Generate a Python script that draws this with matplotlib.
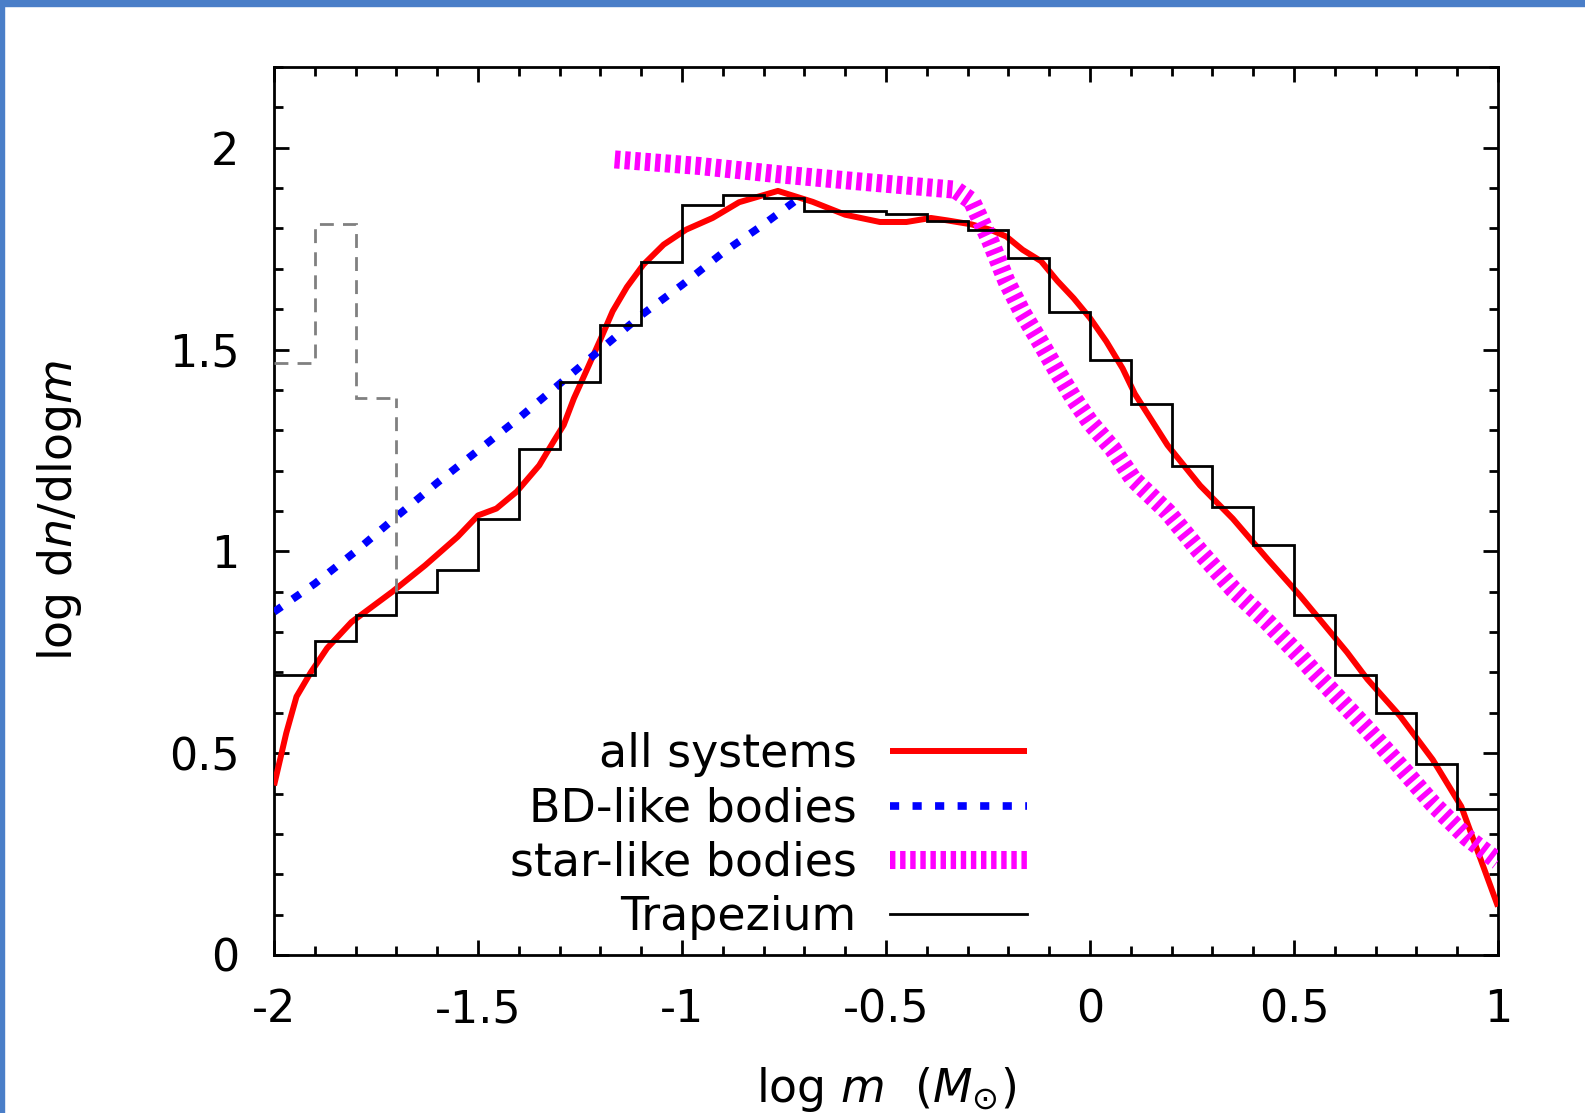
import numpy as np
import matplotlib.pyplot as plt
from matplotlib.patches import Rectangle
from matplotlib.ticker import MultipleLocator, FuncFormatter

plt.rcParams['font.family'] = ['DejaVu Sans']
plt.rcParams['mathtext.fontset'] = 'dejavusans'
plt.rcParams['axes.unicode_minus'] = False

# all systems (smooth curve)
all_x = [-2.0, -1.97, -1.945, -1.91, -1.87, -1.81, -1.71, -1.63, -1.55, -1.50, -1.455,
         -1.405, -1.35, -1.315, -1.29, -1.265, -1.235, -1.20, -1.17, -1.135, -1.095,
         -1.045, -0.99, -0.925, -0.86, -0.765, -0.68, -0.60, -0.515, -0.45, -0.39,
         -0.35, -0.29, -0.245, -0.205, -0.165, -0.12, -0.08, -0.04, 0.0, 0.04, 0.08,
         0.11, 0.19, 0.27, 0.35, 0.435, 0.515, 0.63, 0.68, 0.76, 0.84, 0.91, 0.955, 1.0]
all_y = [0.42, 0.55, 0.64, 0.70, 0.76, 0.825, 0.90, 0.965, 1.036, 1.089, 1.106,
         1.148, 1.213, 1.272, 1.313, 1.379, 1.446, 1.525, 1.595, 1.655, 1.71,
         1.76, 1.797, 1.826, 1.865, 1.893, 1.866, 1.834, 1.816, 1.816, 1.826,
         1.82, 1.81, 1.797, 1.78, 1.747, 1.719, 1.67, 1.627, 1.578, 1.52, 1.453,
         1.39, 1.263, 1.163, 1.081, 0.981, 0.89, 0.75, 0.683, 0.592, 0.484, 0.368, 0.244, 0.12]

# BD-like bodies
bd_x = [-2.0, -1.9, -1.8, -1.7, -1.6, -1.5, -1.4, -1.3, -1.2, -1.1, -1.0, -0.9, -0.8, -0.72]
bd_y = [0.85, 0.92, 1.0, 1.086, 1.17, 1.25, 1.33, 1.415, 1.50, 1.585, 1.66, 1.74, 1.81, 1.87]

# star-like bodies
star_x = [-1.165, -0.96, -0.76, -0.55, -0.33, -0.29, -0.245, -0.205, -0.165, -0.12,
          -0.08, -0.04, 0.0, 0.055, 0.105, 0.19, 0.27, 0.35, 0.435, 0.515, 0.55,
          0.68, 0.76, 0.84, 0.925, 1.0]
star_y = [1.971, 1.955, 1.934, 1.915, 1.896, 1.868, 1.77, 1.67, 1.59, 1.515,
          1.445, 1.379, 1.32, 1.255, 1.18, 1.098, 0.999, 0.907, 0.825, 0.74, 0.70,
          0.559, 0.468, 0.375, 0.29, 0.232]

# Trapezium histogram
trap_edges = [-2.0, -1.9, -1.8, -1.7, -1.6, -1.5, -1.4, -1.3, -1.2, -1.1, -1.0,
              -0.9, -0.8, -0.7, -0.6, -0.5, -0.4, -0.3, -0.2, -0.1, 0.0,
              0.1, 0.2, 0.3, 0.4, 0.5, 0.6, 0.7, 0.8, 0.9, 1.0]
trap_vals = [0.693, 0.778, 0.843, 0.899, 0.954, 1.081, 1.253, 1.419, 1.560, 1.717,
             1.857, 1.884, 1.876, 1.843, 1.843, 1.836, 1.819, 1.797, 1.727, 1.592,
             1.474, 1.364, 1.212, 1.111, 1.016, 0.843, 0.693, 0.599, 0.474, 0.362]

# low-mass observational bins (grey dashed)
obs_edges = [-2.0, -1.9, -1.8, -1.7]
obs_vals = [1.466, 1.811, 1.379]

labels = ['all systems', 'BD-like bodies', 'star-like bodies', 'Trapezium']

fig = plt.figure(figsize=(15.85, 11.13), dpi=100)
ax = fig.add_axes([0.1729, 0.1420, 0.7722, 0.7978])

ax.plot(all_x, all_y, color='#ff0000', lw=4.3, solid_capstyle='butt', label=labels[0], zorder=3)
ax.plot(bd_x, bd_y, color='#0000ff', lw=5.5, linestyle=(0, (1.2, 1.75)),
        dash_capstyle='butt', label=labels[1], zorder=4)
ax.plot(star_x, star_y, color='#ff00ff', lw=13, linestyle=(0, (0.3, 0.26)),
        dash_capstyle='butt', label=labels[2], zorder=5)
ax.stairs(trap_vals, trap_edges, baseline=None, color='black', lw=2, label=labels[3], zorder=6)
grey_ls = (0, (5, 3.3))
ax.stairs(obs_vals, obs_edges, baseline=None, color='#808080', lw=2,
          linestyle=grey_ls, zorder=6)
ax.vlines(obs_edges[-1], trap_vals[3], obs_vals[-1], color='#808080', lw=2,
          linestyle=grey_ls, zorder=6)

ax.set_xlim(-2, 1)
ax.set_ylim(0, 2.2)

ax.xaxis.set_major_locator(MultipleLocator(0.5))
ax.xaxis.set_minor_locator(MultipleLocator(0.1))
ax.yaxis.set_major_locator(MultipleLocator(0.5))
ax.yaxis.set_minor_locator(MultipleLocator(0.1))
fmt = FuncFormatter(lambda v, p: '%g' % round(v, 2))
ax.xaxis.set_major_formatter(fmt)
ax.yaxis.set_major_formatter(fmt)

ax.tick_params(which='both', direction='in', top=True, right=True, width=2, labelsize=32)
ax.tick_params(which='major', length=10.8)
ax.tick_params(which='minor', length=6.5)
ax.tick_params(axis='x', which='major', pad=24)
ax.tick_params(axis='y', which='major', pad=25)
for s in ax.spines.values():
    s.set_linewidth(2)

ax.set_xlabel(r'log $m$  ($M_{\odot}$)', fontsize=33)
ax.xaxis.set_label_coords(0.5, -0.124)
ax.set_ylabel(r'log d$n$/dlog$m$', fontsize=33)
ax.yaxis.set_label_coords(-0.155, 0.5)

ax.legend(loc='lower right', bbox_to_anchor=(1027 / 1585, 1 - 940 / 1113),
          bbox_transform=fig.transFigure, markerfirst=False, frameon=False,
          fontsize=33, handlelength=3.0, handletextpad=0.72, labelspacing=0.2,
          borderpad=0, borderaxespad=0)

# slide frame
fig.patches.append(Rectangle((0, 1 - 6 / 1113), 1, 6 / 1113, transform=fig.transFigure,
                             color='#4a7ec8', zorder=10))
fig.patches.append(Rectangle((0, 0), 3.5 / 1585, 1, transform=fig.transFigure,
                             color='#4a7ec8', zorder=10))

fig.savefig('out.png', dpi=100)
